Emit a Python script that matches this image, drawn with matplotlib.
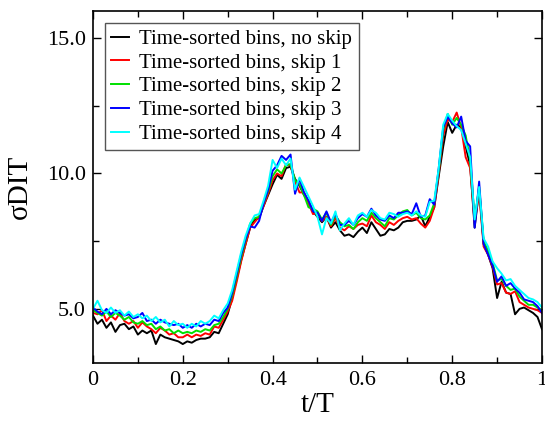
import matplotlib
matplotlib.use("Agg")
import matplotlib.pyplot as plt
import numpy as np

plt.rcParams['font.family'] = ['Liberation Serif', 'DejaVu Serif']

# t/T sampled every 0.01
t = np.arange(101) / 100.0

no_skip = [4.75, 4.45, 4.60, 4.30, 4.50, 4.15, 4.40, 4.45, 4.25, 4.35,
           4.05, 4.20, 4.10, 4.20, 3.70, 4.05, 3.95, 3.90, 3.85, 3.80,
           3.70, 3.80, 3.75, 3.85, 3.90, 3.90, 3.95, 4.15, 4.10, 4.45,
           4.80, 5.40, 6.10, 6.80, 7.40, 8.00, 8.30, 8.35, 8.80, 9.20,
           9.60, 9.95, 9.80, 10.20, 10.25, 9.80, 9.55, 9.20, 9.00, 8.60,
           8.40, 8.20, 8.40, 8.00, 8.20, 7.90, 7.70, 7.75, 7.65, 7.85,
           8.00, 7.80, 8.20, 7.95, 7.70, 7.75, 7.95, 7.90, 8.00, 8.20,
           8.25, 8.25, 8.30, 8.45, 8.05, 8.40, 8.75, 9.90, 11.00, 11.90,
           11.50, 11.80, 11.70, 11.00, 10.30, 8.00, 9.40, 7.40, 7.00, 6.50,
           5.40, 6.00, 5.60, 5.55, 4.80, 5.00, 5.05, 4.95, 4.85, 4.70,
           4.25]

skip1 = [4.85, 4.80, 4.95, 4.55, 4.75, 4.60, 4.85, 4.55, 4.45, 4.55,
         4.30, 4.50, 4.35, 4.25, 4.10, 4.30, 4.20, 4.05, 4.10, 3.95,
         3.95, 4.05, 3.95, 4.05, 4.00, 4.10, 4.05, 4.35, 4.30, 4.60,
         4.90, 5.30, 6.00, 6.75, 7.40, 8.00, 8.20, 8.40, 8.80, 9.25,
         9.75, 10.00, 9.90, 10.35, 10.30, 9.70, 9.30, 9.30, 8.90, 8.50,
         8.55, 8.25, 8.40, 8.05, 8.35, 8.00, 7.90, 8.05, 7.95, 8.10,
         8.15, 8.05, 8.45, 8.20, 8.10, 7.95, 8.20, 8.10, 8.25, 8.35,
         8.40, 8.30, 8.35, 8.15, 8.00, 8.25, 8.75, 10.00, 11.40, 12.00,
         11.90, 12.25, 11.70, 10.60, 10.20, 8.20, 9.30, 7.30, 7.00, 6.55,
         5.90, 5.95, 5.60, 5.55, 5.65, 5.25, 5.15, 5.05, 5.00, 4.95,
         4.85]

skip2 = [4.95, 4.85, 4.75, 4.90, 4.70, 4.85, 4.75, 4.60, 4.70, 4.50,
         4.45, 4.55, 4.40, 4.45, 4.25, 4.35, 4.20, 4.25, 4.10, 4.20,
         4.10, 4.15, 4.10, 4.20, 4.15, 4.25, 4.20, 4.40, 4.45, 4.70,
         5.00, 5.50, 6.20, 6.90, 7.55, 8.15, 8.35, 8.40, 8.90, 9.35,
         9.90, 10.15, 10.00, 10.30, 10.35, 9.75, 9.60, 9.20, 8.75, 8.70,
         8.60, 8.30, 8.55, 8.10, 8.45, 8.20, 8.05, 8.10, 7.95, 8.20,
         8.35, 8.25, 8.55, 8.35, 8.20, 8.05, 8.35, 8.30, 8.45, 8.60,
         8.65, 8.45, 8.55, 8.35, 8.30, 8.45, 8.90, 10.10, 11.60, 12.20,
         11.80, 12.05, 11.80, 11.40, 10.50, 8.30, 9.50, 7.50, 7.15, 6.70,
         6.05, 6.10, 5.85, 5.70, 5.75, 5.45, 5.30, 5.15, 5.15, 5.05,
         4.95]

skip3 = [5.05, 4.90, 4.80, 5.00, 4.80, 4.95, 4.85, 4.75, 4.80, 4.65,
         4.70, 4.85, 4.55, 4.60, 4.45, 4.60, 4.50, 4.45, 4.40, 4.45,
         4.30, 4.40, 4.30, 4.45, 4.35, 4.45, 4.40, 4.60, 4.55, 4.85,
         5.05, 5.60, 6.30, 7.00, 7.60, 8.05, 8.00, 8.25, 8.90, 9.40,
         10.10, 10.30, 10.65, 10.50, 10.70, 9.25, 9.80, 9.30, 9.00, 8.60,
         8.55, 8.25, 8.60, 8.20, 8.50, 8.10, 8.10, 8.25, 8.10, 8.35,
         8.50, 8.40, 8.70, 8.45, 8.30, 8.25, 8.45, 8.35, 8.55, 8.55,
         8.60, 8.50, 8.90, 8.40, 8.45, 9.05, 8.85, 10.20, 11.70, 12.10,
         11.85, 11.70, 12.10, 11.20, 11.00, 8.00, 9.70, 7.40, 7.00, 6.60,
         6.00, 6.20, 5.85, 5.95, 5.75, 5.60, 5.35, 5.30, 5.25, 5.10,
         4.85]

skip4 = [5.00, 5.30, 4.95, 4.85, 5.05, 4.85, 4.95, 4.75, 4.90, 4.70,
         4.80, 4.65, 4.75, 4.55, 4.70, 4.50, 4.60, 4.35, 4.55, 4.40,
         4.45, 4.30, 4.45, 4.35, 4.55, 4.45, 4.55, 4.75, 4.65, 4.95,
         5.20, 5.70, 6.40, 7.10, 7.70, 8.15, 8.45, 8.50, 9.00, 9.55,
         10.50, 10.20, 10.55, 10.30, 10.55, 9.40, 9.85, 9.50, 9.15, 8.80,
         8.40, 7.75, 8.35, 8.15, 8.60, 7.90, 8.15, 8.35, 8.10, 8.45,
         8.55, 8.40, 8.65, 8.55, 8.35, 8.30, 8.55, 8.50, 8.40, 8.50,
         8.55, 8.45, 8.60, 8.45, 8.40, 8.95, 9.00, 10.20, 11.80, 12.20,
         11.95, 11.75, 11.60, 11.10, 10.60, 8.30, 9.50, 7.60, 7.30, 6.75,
         6.50, 6.30, 6.05, 6.10, 5.85, 5.70, 5.55, 5.40, 5.35, 5.25,
         5.05]

labels = ['Time-sorted bins, no skip', 'Time-sorted bins, skip 1',
          'Time-sorted bins, skip 2', 'Time-sorted bins, skip 3',
          'Time-sorted bins, skip 4']
colors = ['black', '#ff0000', '#00e000', '#0000ff', '#00ffff']

fig = plt.figure(figsize=(5.45, 4.23), dpi=100)
ax = fig.add_axes([0.1706, 0.1418, 0.8239, 0.8322])

for y, lab, c in zip([no_skip, skip1, skip2, skip3, skip4], labels, colors):
    ax.plot(t, y, color=c, lw=1.4, label=lab)

ax.set_xlim(0, 1)
ax.set_ylim(3, 16)
ax.set_xticks([0, 0.2, 0.4, 0.6, 0.8, 1.0])
ax.set_xticklabels(['0', '0.2', '0.4', '0.6', '0.8', '1'])
ax.set_xticks(np.arange(0.1, 1.0, 0.2), minor=True)
ax.set_yticks([5, 10, 15])
ax.set_yticklabels(['5.0', '10.0', '15.0'])
ax.set_yticks([7.5, 12.5], minor=True)
ax.tick_params(which='both', direction='in', top=True, right=True, labelsize=16, width=1)
ax.tick_params(axis='x', pad=6)
ax.tick_params(axis='y', pad=5)
ax.tick_params(which='major', length=6)
ax.tick_params(which='minor', length=4)
for s in ax.spines.values():
    s.set_linewidth(1.2)

ax.set_xlabel('t/T', fontsize=21, labelpad=1)
ax.set_ylabel('σDIT', fontsize=21, labelpad=10)

leg = ax.legend(loc='upper left', bbox_to_anchor=(0.027, 0.966), fontsize=15,
                handlelength=0.85, handletextpad=0.5, labelspacing=0.2,
                borderpad=0.3, borderaxespad=0, fancybox=False, framealpha=1)
leg.get_frame().set_edgecolor('#555555')
leg.get_frame().set_linewidth(1.0)

fig.savefig('out.png', dpi=100)
